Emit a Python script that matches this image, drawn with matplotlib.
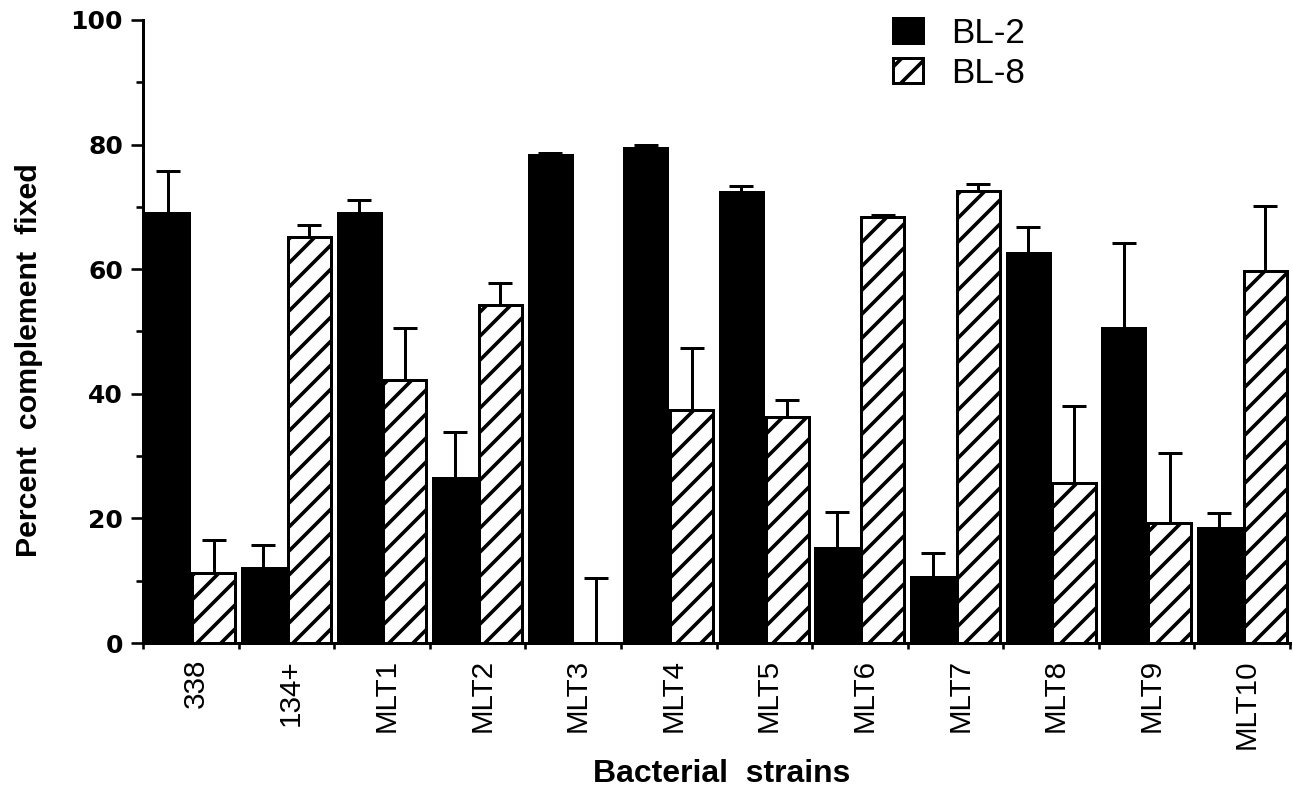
import matplotlib
matplotlib.use('Agg')
import matplotlib.pyplot as plt
import numpy as np

STRAINS = ['338', '134+', 'MLT1', 'MLT2', 'MLT3', 'MLT4', 'MLT5', 'MLT6', 'MLT7', 'MLT8', 'MLT9', 'MLT10']
BL2 = [69.0, 12.0, 69.0, 26.5, 78.3, 79.4, 72.4, 15.2, 10.6, 62.6, 50.5, 18.5]
BL2_ERR = [6.8, 3.7, 2.1, 7.4, 0.3, 0.5, 1.0, 5.8, 3.8, 4.2, 13.7, 2.3]
BL8 = [11.2, 65.2, 42.2, 54.3, 0.0, 37.4, 36.3, 68.4, 72.6, 25.7, 19.3, 59.7]
BL8_ERR = [5.3, 1.9, 8.3, 3.5, 10.4, 9.9, 2.7, 0.3, 1.1, 12.3, 11.2, 10.4]
YTICKS = [0, 20, 40, 60, 80, 100]

DPI = 144
plt.rcParams['font.family'] = ['Liberation Sans', 'DejaVu Sans']
plt.rcParams['hatch.linewidth'] = 1.8

fig = plt.figure(figsize=(1293 / DPI, 789 / DPI), dpi=DPI)
ax = fig.add_axes([0.1106, 0.185, 0.8871, 0.7897])

x = np.arange(len(STRAINS))
w = 0.45
ax.bar(x - 0.24, BL2, w, color='black', edgecolor='black', linewidth=1.5, label='BL-2')
ax.bar(x + 0.24, BL8, w, color='white', edgecolor='black', linewidth=1.5, hatch='//', label='BL-8')
zeros = np.zeros(len(STRAINS))
ax.errorbar(x - 0.24, BL2, yerr=[zeros, BL2_ERR], fmt='none', ecolor='black',
            elinewidth=1.5, capsize=6, capthick=1.5)
ax.errorbar(x + 0.24, BL8, yerr=[zeros, BL8_ERR], fmt='none', ecolor='black',
            elinewidth=1.5, capsize=6, capthick=1.5)

ax.set_xlim(-0.5, len(STRAINS) - 0.5)
ax.set_ylim(0, 100)
for s in ['top', 'right']:
    ax.spines[s].set_visible(False)
for s in ['left', 'bottom']:
    ax.spines[s].set_linewidth(1.5)

# y axis
ax.set_yticks(YTICKS)
ax.set_yticks(np.arange(10, 100, 20), minor=True)
ax.set_yticklabels([str(v) for v in YTICKS], family='DejaVu Sans', fontweight='bold', fontsize=12.5)
ax.tick_params(axis='y', which='major', length=6, width=1.3, pad=4)
ax.tick_params(axis='y', which='minor', length=3.5, width=1.3)

# x axis: boundary ticks + centred labels
ax.set_xticks(np.arange(-0.5, len(STRAINS), 1))
ax.set_xticklabels([])
ax.set_xticks(x + 0.05, minor=True)
ax.set_xticklabels(STRAINS, minor=True, rotation=90, fontsize=14.8)
ax.tick_params(axis='x', which='major', length=3, width=1.3)
ax.tick_params(axis='x', which='minor', length=0, pad=8)

ax.set_ylabel('Percent  complement  fixed', fontsize=15.2, fontweight='bold')
ax.yaxis.set_label_coords(-0.087, 0.454)
ax.set_xlabel('Bacterial  strains', fontsize=16, fontweight='bold')
ax.xaxis.set_label_coords(0.5045, -0.186)

ax.legend(loc='upper left', bbox_to_anchor=(0.654, 1.005), frameon=False, fontsize=17.5,
          handlelength=0.85, handleheight=0.7, handletextpad=0.8, labelspacing=0.2,
          borderpad=0, borderaxespad=0)

fig.savefig('out.png', dpi=DPI)
